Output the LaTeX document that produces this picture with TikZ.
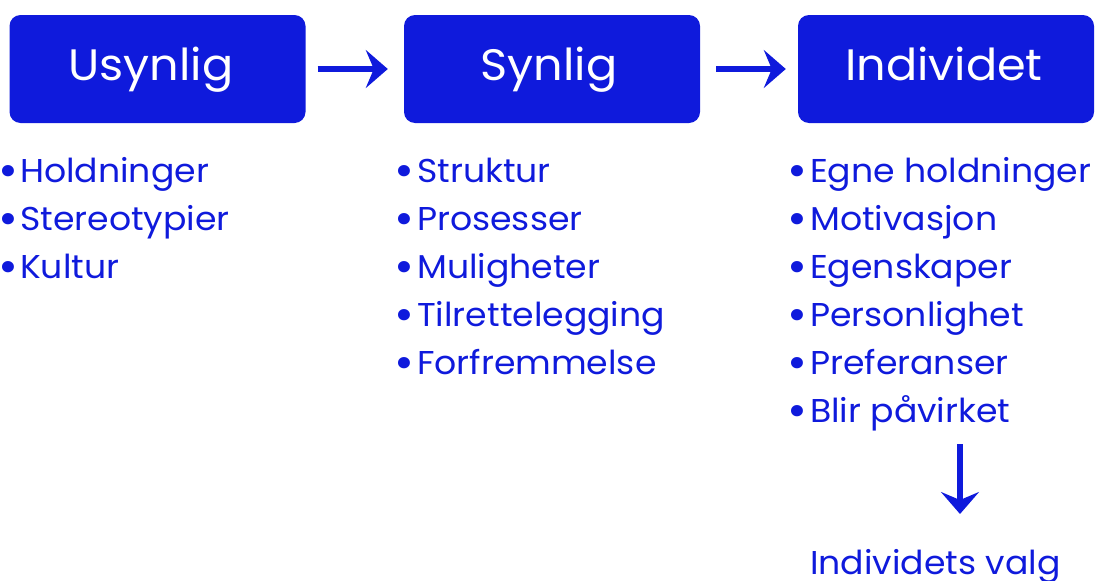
\documentclass[tikz,border=0pt]{standalone}
\usepackage{fontspec}
\setmainfont{Poppins}[FakeStretch=1.05]
\usetikzlibrary{arrows.meta}
\definecolor{deepblue}{RGB}{15,26,220}
\tikzset{
  headbox/.style={fill=deepblue, rounded corners=11pt, minimum width=296pt,
    minimum height=108pt, inner sep=0pt},
  headtext/.style={text=white, font=\fontsize{44}{54}\selectfont, anchor=base, inner sep=0pt},
  item/.style={text=deepblue, font=\fontsize{33}{40}\selectfont, anchor=base west, inner sep=0pt},
  flow/.style={draw=deepblue, line width=6.5pt,
    -{Stealth[length=22pt, width=38pt, inset=8pt]}},
}
% bullet glyph, enlarged and lowered, in a box of the given width
\newcommand{\bul}[1]{\makebox[#1][l]{\hspace{-2pt}\raisebox{-4pt}{\fontsize{46}{46}\selectfont •}}}
\begin{document}
\begin{tikzpicture}[x=1pt, y=-1pt]
  \useasboundingbox (0,0) rectangle (1098,581);

  % header boxes
  \node[headbox] (b1) at (157.5,69) {};
  \node[headbox] (b2) at (552,69) {};
  \node[headbox] (b3) at (946,69) {};
  \node[headtext] (t1) at (151,80) {Usynlig};
  \node[headtext] (t2) at (549,80) {Synlig};
  \node[headtext] (t3) at (944,80) {Individet};

  % arrows between the headers
  \draw[flow, shorten <=12pt, shorten >=16pt] (b1.east) -- (b2.west);
  \draw[flow, shorten <=16pt, shorten >=12pt] (b2.east) -- (b3.west);

  % first column
  \node[item] (a1) at (0,182) {\bul{20pt}Holdninger};
  \node[item] (a2) at (0,230) {\bul{20pt}Stereotypier};
  \node[item] (a3) at (0,278) {\bul{20pt}Kultur};

  % second column
  \node[item] (s1) at (396,182) {\bul{21pt}Struktur};
  \node[item] (s2) at (396,230) {\bul{21pt}Prosesser};
  \node[item] (s3) at (396,278) {\bul{21pt}Muligheter};
  \node[item] (s4) at (396,326) {\bul{21pt}Tilrettelegging};
  \node[item] (s5) at (396,374) {\bul{21pt}Forfremmelse};

  % third column
  \node[item] (i1) at (789,182) {\bul{21pt}Egne holdninger};
  \node[item] (i2) at (789,230) {\bul{21pt}Motivasjon};
  \node[item] (i3) at (789,278) {\bul{21pt}Egenskaper};
  \node[item] (i4) at (789,326) {\bul{21pt}Personlighet};
  \node[item] (i5) at (789,374) {\bul{21pt}Preferanser};
  \node[item] (i6) at (789,422) {\bul{21pt}Blir påvirket};

  % result
  \node[item] (valg) at (810,574) {Individets valg};
  \coordinate (dtop) at (960,444);
  \coordinate (dtip) at (960,514);
  \draw[flow] (dtop) -- (dtip);
\end{tikzpicture}
\end{document}
